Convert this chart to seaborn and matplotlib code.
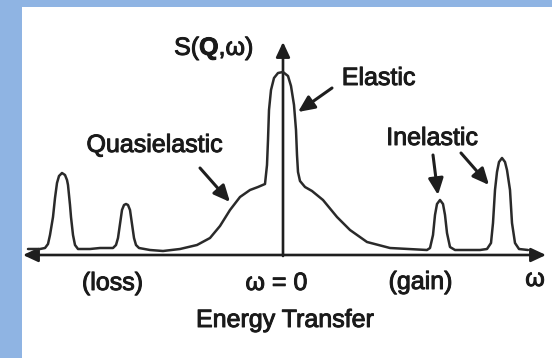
import matplotlib
matplotlib.use("Agg")
import matplotlib.pyplot as plt
import matplotlib.patheffects as pe
import seaborn as sns
from matplotlib.patches import FancyArrowPatch

# ---- data (energy transfer omega, intensity S(Q, omega)) ----
omega = [-25.5, -24.3, -23.8, -23.5, -23.3, -23.0, -22.8, -22.6, -22.4, -22.1,
         -21.8, -21.6, -21.5, -21.3, -21.2, -21.0, -20.8, -20.5, -19.3, -18.3,
         -17.0, -16.7, -16.5, -16.3, -16.1, -15.9, -15.7, -15.5, -15.3, -15.1,
         -14.9, -14.7, -14.4, -13.3, -12.0, -10.3, -8.6, -7.3, -6.3, -5.3,
         -4.3, -3.3, -2.5, -1.8, -1.6, -1.5, -1.4, -1.2, -0.9, -0.5,
         0.0, 0.5, 0.8, 1.1, 1.3, 1.4, 1.5, 1.7, 2.2, 2.9,
         4.0, 5.4, 6.7, 8.4, 10.7, 14.4, 14.7, 15.0, 15.2, 15.4,
         15.7, 16.0, 16.2, 16.4, 16.7, 17.2, 19.7, 20.4, 20.8, 21.0,
         21.2, 21.4, 21.6, 21.9, 22.2, 22.4, 22.7, 22.9, 23.2, 23.6, 24.5]
intensity = [0.6, 0.6, 0.7, 1.1, 2.0, 3.8, 5.7, 7.2, 7.9, 8.2,
             8.0, 7.5, 7.0, 5.0, 3.8, 2.0, 1.0, 0.6, 0.6, 0.7,
             0.7, 1.0, 1.7, 3.1, 4.5, 5.0, 5.1, 5.0, 4.5, 3.1,
             1.7, 1.0, 0.7, 0.5, 0.4, 0.6, 1.0, 1.7, 2.9, 4.5,
             5.8, 6.5, 6.8, 7.1, 9.0, 11.5, 14.5, 16.5, 17.7, 18.2,
             18.3, 17.9, 16.9, 15.0, 12.5, 10.0, 8.3, 7.4, 6.8, 6.4,
             5.5, 3.8, 2.5, 1.3, 0.7, 0.5, 0.7, 2.0, 4.0, 5.1,
             5.5, 5.1, 4.0, 2.2, 0.8, 0.5, 0.5, 0.6, 1.2, 3.2,
             6.5, 8.3, 9.3, 9.7, 9.3, 8.5, 6.5, 3.2, 1.2, 0.6, 0.5]

y_label = r"S($\mathbf{Q}$,ω)"
x_label = "Energy Transfer"
x_ticks = ["(loss)", "ω = 0", "(gain)"]
annotations = ["Quasielastic", "Elastic", "Inelastic"]

sns.set_style("white")
plt.rcParams["font.family"] = ["Liberation Sans", "DejaVu Sans"]
plt.rcParams["mathtext.fontset"] = "custom"
plt.rcParams["mathtext.rm"] = "Liberation Sans"
plt.rcParams["mathtext.bf"] = "Liberation Sans:bold"

W, H = 552, 358
fig = plt.figure(figsize=(W / 100, H / 100), dpi=100, facecolor="#8fb4e3")
ax = fig.add_axes([22 / W, 0, (W - 22) / W, (H - 7) / H])
ax.set_facecolor("white")
ax.set_xlim((22 - 283) / 10, (552 - 283) / 10)
ax.set_ylim((255 - 358) / 10, (255 - 7) / 10)
ax.set_xticks([])
ax.set_yticks([])
for s in ax.spines.values():
    s.set_visible(False)


def P(x, y):
    return ((x - 283) / 10, (255 - y) / 10)


ink = "#1e1e1e"
sns.lineplot(x=omega, y=intensity, ax=ax, color="#2a2a2a", lw=1.8, sort=True)
ax.set_xlabel("")
ax.set_ylabel("")

# axes arrows
ax.add_patch(FancyArrowPatch(P(23, 255), P(546, 255),
                             arrowstyle="<|-|>,head_length=0.6,head_width=0.28",
                             mutation_scale=15, lw=1.9, color=ink,
                             shrinkA=0, shrinkB=0))
ax.add_patch(FancyArrowPatch(P(283, 256), P(283, 42),
                             arrowstyle="-|>,head_length=0.6,head_width=0.28",
                             mutation_scale=15, lw=1.9, color=ink,
                             shrinkA=0, shrinkB=0))

fs = 18
thick = [pe.withStroke(linewidth=0.7, foreground="#1a1a1a")]
tk = dict(fontsize=fs, color="#1a1a1a", va="baseline", ha="center",
          path_effects=thick)
ax.text(*P(214, 55), y_label, **tk)
ax.text(*P(154.5, 152), annotations[0], **tk)
ax.text(*P(378.5, 85), annotations[1], **tk)
ax.text(*P(432, 145), annotations[2], **tk)
ax.text(*P(112.5, 290), x_ticks[0], **tk)
ax.text(*P(276.5, 290), x_ticks[1], **tk)
ax.text(*P(420.5, 289), x_ticks[2], **tk)
ax.text(*P(535, 286), "ω", **tk)
ax.text(*P(285, 327), x_label, **tk)

arrows = [((332, 88), (298, 112)),
          ((200, 168), (230, 202)),
          ((433, 155), (438, 195)),
          ((461, 153), (489, 185))]
for tail, head in arrows:
    ax.annotate("", xy=P(*head), xytext=P(*tail),
                arrowprops=dict(arrowstyle="-|>,head_length=0.7,head_width=0.32",
                                mutation_scale=14, lw=2.2, color=ink,
                                shrinkA=0, shrinkB=0))

fig.savefig("out.png", dpi=100, facecolor=fig.get_facecolor())
